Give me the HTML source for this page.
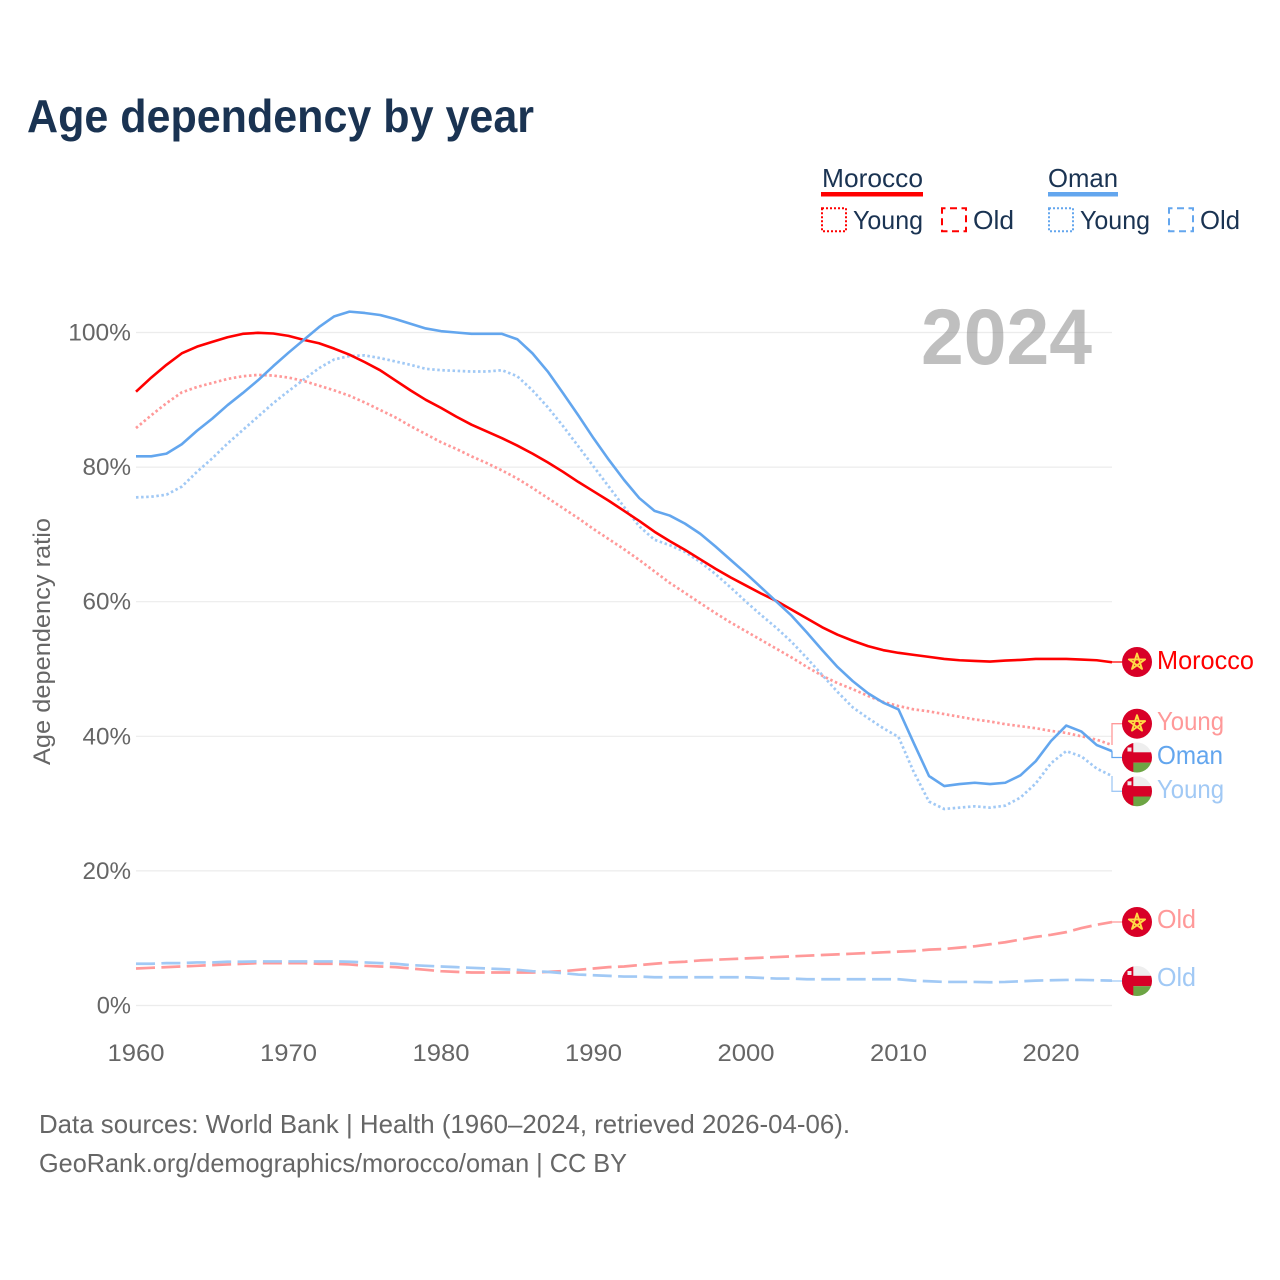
<!DOCTYPE html>
<html lang="en">
<head>
<meta charset="utf-8">
<title>Age dependency by year</title>
<style>
html,body{margin:0;padding:0;background:#fff;width:1280px;height:1280px;overflow:hidden}
svg{display:block}
text{font-family:"Liberation Sans",sans-serif}
</style>
</head>
<body>
<svg id="chart" xmlns="http://www.w3.org/2000/svg" width="1280" height="1280" viewBox="0 0 1280 1280">
  <defs>
    <clipPath id="flag-clip"><circle cx="0" cy="0" r="15"/></clipPath>
    <g id="flag-morocco">
      <circle cx="0" cy="0" r="15" fill="#d80027"/>
      <polygon points="0,-8.5 5,6.9 -8.1,-2.6 8.1,-2.6 -5,6.9" fill="none" stroke="#ffda44" stroke-width="1.9" stroke-linejoin="round"/>
    </g>
    <g id="flag-oman">
      <g clip-path="url(#flag-clip)">
        <rect x="-15" y="-15" width="30" height="30" fill="#eeeeee"/>
        <rect x="-15" y="-5.2" width="30" height="10.4" fill="#d80027"/>
        <rect x="-15" y="5.2" width="30" height="10" fill="#6da544"/>
        <rect x="-15" y="-15" width="11.3" height="30" fill="#d80027"/>
        <rect x="-9.5" y="-10" width="4" height="4" fill="#eeeeee"/>
      </g>
    </g>
  </defs>

  <text x="27" y="132" font-size="46" font-weight="700" fill="#1a3352" textLength="507" lengthAdjust="spacingAndGlyphs">Age dependency by year</text>

  <g id="grid"></g>
  <text x="921" y="364" font-size="79" font-weight="700" fill="#808080" fill-opacity="0.5" textLength="171" lengthAdjust="spacingAndGlyphs">2024</text>
  <g id="y-ticks"></g>
  <g id="x-ticks"></g>
  <text transform="translate(50,765) rotate(-90)" x="0" y="0" font-size="24" fill="#666666" textLength="247" lengthAdjust="spacingAndGlyphs">Age dependency ratio</text>

  <g id="series"></g>
  <g id="leaders"></g>

  <g>
    <text x="822" y="187" font-size="26" fill="#1a3352" textLength="101" lengthAdjust="spacingAndGlyphs">Morocco</text>
    <rect x="821" y="192" width="102" height="4.5" fill="#ff0000"/>
    <rect x="822" y="208.3" width="24" height="23" fill="none" stroke="#ff0000" stroke-width="2" stroke-dasharray="2 2"/>
    <text x="853" y="229" font-size="26" fill="#1a3352" textLength="70" lengthAdjust="spacingAndGlyphs">Young</text>
    <rect x="942" y="208.3" width="24" height="23" fill="none" stroke="#ff0000" stroke-width="2" stroke-dasharray="7 4.5" stroke-dashoffset="3.5"/>
    <text x="973" y="229" font-size="26" fill="#1a3352" textLength="41" lengthAdjust="spacingAndGlyphs">Old</text>
    <text x="1048" y="187" font-size="26" fill="#1a3352" textLength="70" lengthAdjust="spacingAndGlyphs">Oman</text>
    <rect x="1048" y="192" width="70" height="4.5" fill="#63a6ee"/>
    <rect x="1049" y="208.3" width="24" height="23" fill="none" stroke="#63a6ee" stroke-width="2" stroke-dasharray="2 2"/>
    <text x="1080" y="229" font-size="26" fill="#1a3352" textLength="70" lengthAdjust="spacingAndGlyphs">Young</text>
    <rect x="1169" y="208.3" width="24" height="23" fill="none" stroke="#63a6ee" stroke-width="2" stroke-dasharray="7 4.5" stroke-dashoffset="3.5"/>
    <text x="1200" y="229" font-size="26" fill="#1a3352" textLength="40" lengthAdjust="spacingAndGlyphs">Old</text>
  </g>

  <g>
    <use href="#flag-morocco" transform="translate(1137,662)"/>
    <text x="1157" y="669" font-size="26" fill="#ff0000" textLength="97" lengthAdjust="spacingAndGlyphs">Morocco</text>
    <use href="#flag-morocco" transform="translate(1137,723.7)"/>
    <text x="1157" y="730" font-size="26" fill="#ff9999" textLength="67" lengthAdjust="spacingAndGlyphs">Young</text>
    <use href="#flag-oman" transform="translate(1137,757.5)"/>
    <text x="1157" y="764" font-size="26" fill="#63a6ee" textLength="66" lengthAdjust="spacingAndGlyphs">Oman</text>
    <use href="#flag-oman" transform="translate(1137,791.3)"/>
    <text x="1157" y="798" font-size="26" fill="#a1c9f5" textLength="67" lengthAdjust="spacingAndGlyphs">Young</text>
    <use href="#flag-morocco" transform="translate(1137,922)"/>
    <text x="1157" y="928" font-size="26" fill="#ff9999" textLength="39" lengthAdjust="spacingAndGlyphs">Old</text>
    <use href="#flag-oman" transform="translate(1137,981)"/>
    <text x="1157" y="986" font-size="26" fill="#a1c9f5" textLength="39" lengthAdjust="spacingAndGlyphs">Old</text>
  </g>

  <text x="39" y="1133" font-size="26" fill="#666666" textLength="811" lengthAdjust="spacingAndGlyphs">Data sources: World Bank | Health (1960–2024, retrieved 2026-04-06).</text>
  <text x="39" y="1172" font-size="26" fill="#666666" textLength="588" lengthAdjust="spacingAndGlyphs">GeoRank.org/demographics/morocco/oman | CC BY</text>
</svg>

<script>
const firstYear = 1960;
const xTickYears = [1960, 1970, 1980, 1990, 2000, 2010, 2020];
const yTickValues = [0, 20, 40, 60, 80, 100];

const moroccoTotal = [
  91.2, 93.3, 95.2, 96.9, 97.9, 98.6, 99.3, 99.8, 99.95, 99.85,
  99.5, 98.9, 98.4, 97.6, 96.7, 95.6, 94.4, 92.9, 91.4, 90.0,
  88.8, 87.5, 86.3, 85.3, 84.3, 83.2, 82.0, 80.7, 79.3, 77.8,
  76.4, 75.0, 73.5, 72.0, 70.4, 69.0, 67.7, 66.3, 64.9, 63.6,
  62.4, 61.2, 60.1, 58.8, 57.5, 56.2, 55.1, 54.2, 53.4, 52.8,
  52.4, 52.1, 51.8, 51.5, 51.3, 51.2, 51.1, 51.25, 51.35, 51.5,
  51.5, 51.5, 51.4, 51.3, 51.0
];
const moroccoYoung = [
  85.8, 87.7, 89.5, 91.1, 91.9, 92.5, 93.1, 93.5, 93.7, 93.6,
  93.3, 92.8, 92.1, 91.4, 90.6, 89.6, 88.5, 87.4, 86.1, 84.9,
  83.7, 82.7, 81.6, 80.6, 79.5, 78.3, 76.9, 75.4, 73.9, 72.4,
  70.8, 69.3, 67.8, 66.2, 64.5, 62.8, 61.3, 59.8, 58.3, 56.9,
  55.6, 54.3, 53.0, 51.7, 50.3, 49.0, 47.9, 47.0, 46.0, 45.1,
  44.5, 44.0, 43.7, 43.3, 42.9, 42.5, 42.2, 41.8, 41.5, 41.2,
  40.8, 40.5, 40.0, 39.5, 38.7
];
const moroccoOld = [
  5.5, 5.6, 5.7, 5.8, 5.9, 6.0, 6.1, 6.2, 6.3, 6.3,
  6.3, 6.3, 6.2, 6.2, 6.1, 5.9, 5.8, 5.7, 5.5, 5.3,
  5.1, 5.0, 4.9, 4.9, 4.9, 4.9, 4.9, 5.0, 5.1, 5.3,
  5.5, 5.7, 5.8, 6.0, 6.2, 6.4, 6.5, 6.7, 6.8, 6.9,
  7.0, 7.1, 7.2, 7.3, 7.4, 7.5, 7.6, 7.7, 7.8, 7.9,
  8.0, 8.1, 8.3, 8.4, 8.6, 8.8, 9.1, 9.4, 9.8, 10.2,
  10.5, 10.9, 11.5, 12.0, 12.4
];
const omanTotal = [
  81.6, 81.6, 82.0, 83.4, 85.4, 87.2, 89.2, 91.0, 92.9, 95.0,
  97.0, 98.9, 100.8, 102.4, 103.1, 102.9, 102.6, 102.0, 101.3, 100.6,
  100.2, 100.0, 99.8, 99.8, 99.8, 99.0, 96.9, 94.2, 91.0, 87.7,
  84.3, 81.1, 78.1, 75.4, 73.5, 72.8, 71.6, 70.1, 68.2, 66.2,
  64.2, 62.1, 60.0, 57.9, 55.4, 52.8, 50.3, 48.2, 46.4, 45.0,
  44.0, 39.0, 34.1, 32.6, 32.9, 33.1, 32.9, 33.1, 34.2, 36.3,
  39.3, 41.6, 40.7, 38.7, 37.8
];
const omanYoung = [
  75.5, 75.6, 75.9, 77.1, 79.3, 81.3, 83.5, 85.5, 87.5, 89.5,
  91.3, 93.0, 94.7, 96.0, 96.5, 96.6, 96.2, 95.7, 95.2, 94.6,
  94.4, 94.3, 94.2, 94.2, 94.4, 93.5, 91.4, 88.9, 86.1, 83.1,
  80.1, 77.1, 74.1, 71.2, 69.2, 68.4, 67.4, 65.9, 64.1, 62.1,
  60.0, 58.0, 56.1, 54.0, 51.6, 49.1, 46.6, 44.3, 42.7, 41.2,
  39.9, 34.7, 30.3, 29.2, 29.4, 29.6, 29.4, 29.7, 30.9, 33.0,
  36.0, 37.8, 37.0, 35.2, 34.1
];
const omanOld = [
  6.2, 6.2, 6.3, 6.3, 6.4, 6.4, 6.5, 6.5, 6.55, 6.55,
  6.55, 6.55, 6.55, 6.55, 6.5, 6.4, 6.3, 6.2, 6.0, 5.9,
  5.8, 5.7, 5.6, 5.5, 5.4, 5.3, 5.1, 5.0, 4.8, 4.6,
  4.5, 4.4, 4.3, 4.3, 4.2, 4.2, 4.2, 4.2, 4.2, 4.2,
  4.2, 4.1, 4.0, 4.0, 3.9, 3.9, 3.9, 3.9, 3.9, 3.9,
  3.9, 3.7, 3.6, 3.5, 3.5, 3.5, 3.45, 3.5, 3.6, 3.7,
  3.75, 3.8, 3.8, 3.75, 3.7
];

const SVG_NS = 'http://www.w3.org/2000/svg';
const RED = '#ff0000', BLUE = '#63a6ee', RED_LIGHT = '#ff9999', BLUE_LIGHT = '#a1c9f5';
const DOTTED = '2.5 2.6', DASHED = '19 6.4';

function xScale(year) { return 136 + (year - 1960) * 15.25; }
function yScale(value) { return 1005.5 - value * 6.73; }

function make(tag) { return document.createElementNS(SVG_NS, tag); }

function linePath(values) {
  return values.map(function (v, i) {
    return (i ? 'L' : 'M') + xScale(firstYear + i).toFixed(2) + ' ' + yScale(v).toFixed(2);
  }).join(' ');
}

const grid = document.getElementById('grid');
yTickValues.forEach(function (v) {
  const line = make('line');
  
  
  line.setAttribute('x1', 136);
  line.setAttribute('x2', 1112);
  line.setAttribute('y1', yScale(v));
  line.setAttribute('y2', yScale(v));
  line.setAttribute('stroke', '#ececec');
  line.setAttribute('stroke-width', '1.2');
  grid.appendChild(line);
});

const yTicksGroup = document.getElementById('y-ticks');
yTickValues.forEach(function (v) {
  const label = v + '%';
  const width = (label.length - 1) * 14.25 + 20;
  const t = make('text');
  
  
  t.setAttribute('x', 131 - width);
  t.setAttribute('y', yScale(v) + 8);
  t.setAttribute('font-size', '24');
  t.setAttribute('fill', '#666666');
  t.setAttribute('textLength', width);
  t.setAttribute('lengthAdjust', 'spacingAndGlyphs');
  t.textContent = label;
  yTicksGroup.appendChild(t);
});

const xTicksGroup = document.getElementById('x-ticks');
xTickYears.forEach(function (year) {
  const t = make('text');
  
  
  t.setAttribute('x', xScale(year) - 28.5);
  t.setAttribute('y', 1061);
  t.setAttribute('font-size', '24');
  t.setAttribute('fill', '#666666');
  t.setAttribute('textLength', '57');
  t.setAttribute('lengthAdjust', 'spacingAndGlyphs');
  t.textContent = String(year);
  xTicksGroup.appendChild(t);
});

const seriesGroup = document.getElementById('series');
function drawSeries(name, values, color, dash, width) {
  const p = make('path');
  
  
  p.setAttribute('d', linePath(values));
  p.setAttribute('fill', 'none');
  p.setAttribute('stroke', color);
  p.setAttribute('stroke-width', width);
  p.setAttribute('stroke-linejoin', 'round');
  if (dash) p.setAttribute('stroke-dasharray', dash);
  seriesGroup.appendChild(p);
}
drawSeries('line-morocco-old', moroccoOld, RED_LIGHT, DASHED, 2.7);
drawSeries('line-oman-old', omanOld, BLUE_LIGHT, DASHED, 2.7);
drawSeries('line-morocco-young', moroccoYoung, RED_LIGHT, DOTTED, 2.7);
drawSeries('line-oman-young', omanYoung, BLUE_LIGHT, DOTTED, 2.7);
drawSeries('line-morocco-total', moroccoTotal, RED, null, 2.6);
drawSeries('line-oman-total', omanTotal, BLUE, null, 2.6);

const leadersGroup = document.getElementById('leaders');
function drawLeader(name, values, labelY, color) {
  const endY = yScale(values[values.length - 1]);
  const p = make('path');
  
  
  p.setAttribute('d', 'M1112 ' + endY.toFixed(2) + ' V' + labelY + ' H1122');
  p.setAttribute('fill', 'none');
  p.setAttribute('stroke', color);
  p.setAttribute('stroke-width', '1.3');
  leadersGroup.appendChild(p);
}
drawLeader('leader-morocco-total', moroccoTotal, 662, RED);
drawLeader('leader-morocco-young', moroccoYoung, 723.7, RED_LIGHT);
drawLeader('leader-oman-total', omanTotal, 757.5, BLUE);
drawLeader('leader-oman-young', omanYoung, 791.3, BLUE_LIGHT);
drawLeader('leader-morocco-old', moroccoOld, 922, RED_LIGHT);
drawLeader('leader-oman-old', omanOld, 981, BLUE_LIGHT);
</script>
</body>
</html>
